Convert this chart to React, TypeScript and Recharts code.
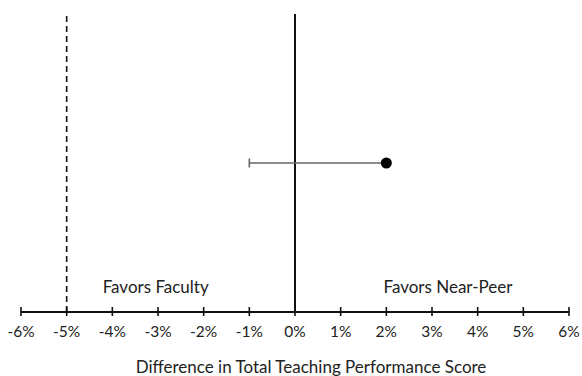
import React from 'react';
import {
  ComposedChart,
  Scatter,
  ErrorBar,
  XAxis,
  YAxis,
  ReferenceLine,
  ReferenceDot,
} from 'recharts';

// tick values in percent
const xTicks = [-6, -5, -4, -3, -2, -1, 0, 1, 2, 3, 4, 5, 6];
// point estimate with its interval (low side, high side)
const estimate = [{ diff: 2, row: 0.5, err: [3, 0] }];
const thresholdLine = -5;
const noEffectLine = 0;
const sideLabels = [
  { x: -3.05, text: 'Favors Faculty' },
  { x: 3.35, text: 'Favors Near-Peer' },
];

const FONT = 'Lato, "Open Sans", sans-serif';

const AxisTick = (props: any) => {
  const { x, y, payload } = props;
  return (
    <g>
      <line x1={x} x2={x} y1={y - 5} y2={y + 4} stroke="#111" strokeWidth={1.6} />
      <text x={x} y={y + 25} textAnchor="middle" fill="#222" fontSize={15.5} fontFamily={FONT}>
        {`${payload.value}%`}
      </text>
    </g>
  );
};

const App: React.FC = () => {
  return (
    <div style={{ width: 582, height: 376, background: '#fff' }}>
      <style>{'body{margin:0}'}</style>
      <ComposedChart width={582} height={376} data={estimate} margin={{ top: 14, right: 13, left: 21, bottom: 0 }}>
        <XAxis
          type="number"
          dataKey="diff"
          domain={[-6, 6]}
          ticks={xTicks}
          interval={0}
          height={64}
          tickSize={0}
          tickMargin={0}
          tickLine={false}
          axisLine={{ stroke: '#111', strokeWidth: 2 }}
          tick={<AxisTick />}
          label={{
            value: 'Difference in Total Teaching Performance Score',
            position: 'insideBottom',
            offset: 3,
            dx: 16,
            fill: '#222',
            fontSize: 17,
            fontFamily: FONT,
          }}
        />
        <YAxis type="number" dataKey="row" domain={[0, 1]} hide />
        <ReferenceLine x={thresholdLine} stroke="#111" strokeWidth={1.6} strokeDasharray="6 4" />
        <ReferenceLine x={noEffectLine} stroke="#111" strokeWidth={2} />
        {sideLabels.map((s) => (
          <ReferenceDot
            key={s.text}
            x={s.x}
            y={0.084}
            r={0}
            fill="none"
            stroke="none"
            label={{ value: s.text, position: 'center', fill: '#222', fontSize: 17, fontFamily: FONT }}
          />
        ))}
        <Scatter dataKey="row" fill="#000" isAnimationActive={false} shape={(p: any) => <circle cx={p.cx} cy={p.cy} r={5.5} fill="#000" />}>
          <ErrorBar dataKey="err" direction="x" width={4.5} stroke="#666" strokeWidth={1.6} />
        </Scatter>
      </ComposedChart>
    </div>
  );
};

export default App;
